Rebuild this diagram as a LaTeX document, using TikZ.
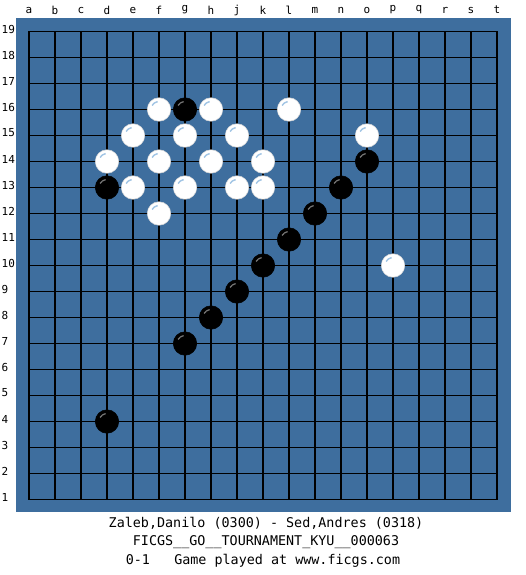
\documentclass[tikz,border=0pt]{standalone}
\usepackage{fontspec}
\setmonofont{DejaVu Sans Mono}
\usepackage{tikz}
\usetikzlibrary{positioning}
\definecolor{boardblue}{RGB}{62,110,158}
\definecolor{whitehl}{RGB}{160,196,228}
\definecolor{blackhl}{RGB}{120,120,120}

\begin{document}
\begin{tikzpicture}[x=1pt,y=-1pt,
    label text/.style={font=\ttfamily\fontsize{11}{13}\selectfont,inner sep=0pt},
    game text/.style={font=\ttfamily\fontsize{13.4}{16}\selectfont,inner sep=0pt,text height=10pt,text depth=3pt},
    stone/.style={circle,minimum size=23.5pt,inner sep=0pt},
    white stone/.style={stone,fill=white,draw=white!85!black,line width=0.5pt,
        path picture={\draw[whitehl,line width=1.4pt] (path picture bounding box.center) ++(150:8pt) arc[start angle=150,end angle=100,radius=8pt];}},
    black stone/.style={stone,fill=black,draw=black,line width=0.5pt,
        path picture={\draw[blackhl,line width=1.2pt] (path picture bounding box.center) ++(150:8pt) arc[start angle=150,end angle=100,radius=8pt];}}]
    \useasboundingbox (0,0) rectangle (525,575);
    \node (board) [fill=boardblue,minimum width=495pt,minimum height=494pt,inner sep=0pt,anchor=north west] at (16,18) {};
    % grid
    \foreach \i in {0,...,18} {
        \draw [line width=1.3pt] ({29+26*\i},31.5) -- ({29+26*\i},499.5);
        \draw [line width=1.3pt] (29,{31.5+26*\i}) -- (497,{31.5+26*\i});
    }
    % coordinates round the board
    \foreach \l [count=\i] in {a,b,c,d,e,f,g,h,j,k,l,m,n,o,p,q,r,s,t}
        \node (col-\l) [label text] at ({29+26*(\i-1)},10) {\l};
    \foreach \r in {1,...,19}
        \node (row-\r) [label text,anchor=west] at (1.5,{29+26*(19-\r)}) {\r};
    % stones
    \foreach \c/\r in {6/16,8/16,11/16,5/15,7/15,9/15,14/15,4/14,6/14,8/14,10/14,5/13,7/13,9/13,10/13,6/12,15/10}
        \node (w-\c-\r) [white stone] at ({29+26*(\c-1)},{31.5+26*(19-\r)}) {};
    \foreach \c/\r in {7/16,4/13,14/14,13/13,12/12,11/11,10/10,9/9,8/8,7/7,4/4}
        \node (b-\c-\r) [black stone] at ({29+26*(\c-1)},{31.5+26*(19-\r)}) {};
    % game info
    \node (players) [game text] at (266,524) {Zaleb,Danilo (0300) - Sed,Andres (0318)};
    \node (event) [game text,below=5pt of players] {FICGS\_\_GO\_\_TOURNAMENT\_KYU\_\_000063};
    \node (result) [game text,below=5pt of event,xshift=-3pt] {0-1\ \ \ Game played at www.ficgs.com};
\end{tikzpicture}
\end{document}
